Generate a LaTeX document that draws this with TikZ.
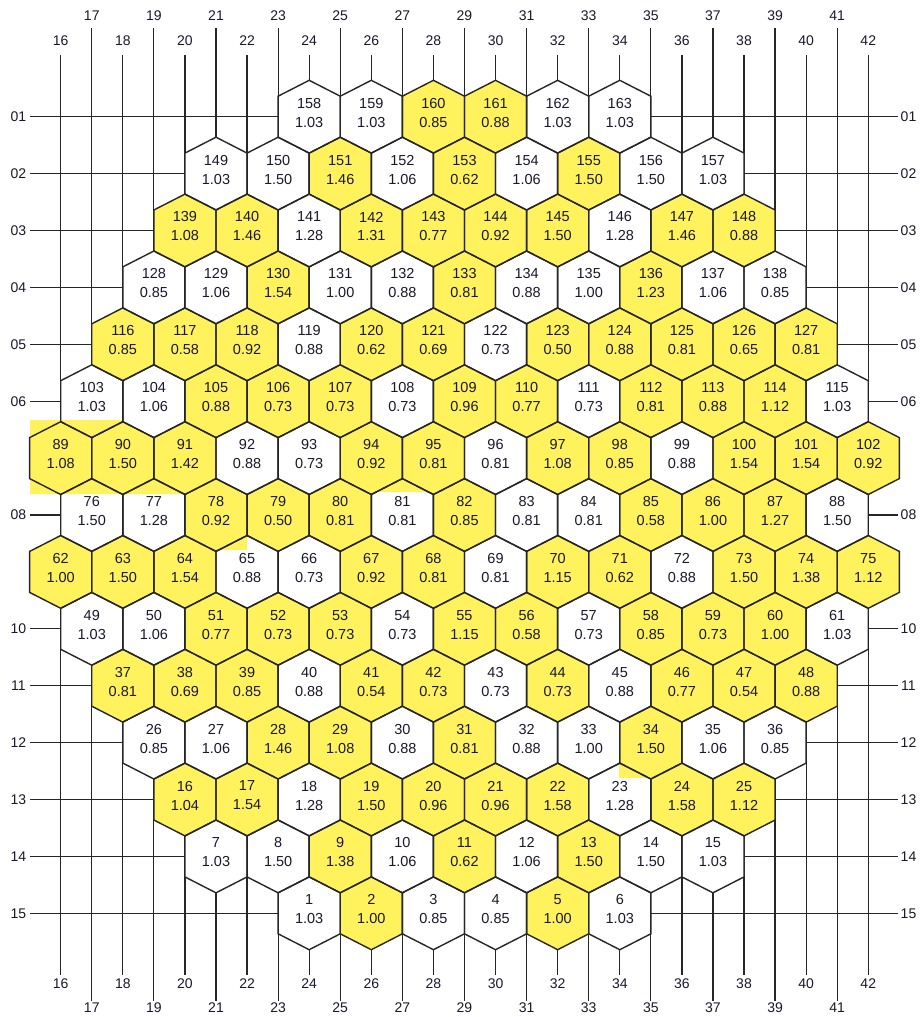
\documentclass[tikz,border=0pt]{standalone}
\usepackage{fontspec}
\setmainfont{Liberation Sans}
\definecolor{hexyellow}{RGB}{255,242,92}
\definecolor{inkline}{RGB}{38,38,38}
\definecolor{inktext}{RGB}{25,25,45}
\newcommand\hexdata{%
1/24/{158/1.03/0,159/1.03/0,160/0.85/1,161/0.88/1,162/1.03/0,163/1.03/0},%
2/21/{149/1.03/0,150/1.50/0,151/1.46/1,152/1.06/0,153/0.62/1,154/1.06/0,155/1.50/1,156/1.50/0,157/1.03/0},%
3/20/{139/1.08/1,140/1.46/1,141/1.28/0,142/1.31/1,143/0.77/1,144/0.92/1,145/1.50/1,146/1.28/0,147/1.46/1,148/0.88/1},%
4/19/{128/0.85/0,129/1.06/0,130/1.54/1,131/1.00/0,132/0.88/0,133/0.81/1,134/0.88/0,135/1.00/0,136/1.23/1,137/1.06/0,138/0.85/0},%
5/18/{116/0.85/1,117/0.58/1,118/0.92/1,119/0.88/0,120/0.62/1,121/0.69/1,122/0.73/0,123/0.50/1,124/0.88/1,125/0.81/1,126/0.65/1,127/0.81/1},%
6/17/{103/1.03/0,104/1.06/0,105/0.88/1,106/0.73/1,107/0.73/1,108/0.73/0,109/0.96/1,110/0.77/1,111/0.73/0,112/0.81/1,113/0.88/1,114/1.12/1,115/1.03/0},%
7/16/{89/1.08/1,90/1.50/1,91/1.42/1,92/0.88/0,93/0.73/0,94/0.92/1,95/0.81/1,96/0.81/0,97/1.08/1,98/0.85/1,99/0.88/0,100/1.54/1,101/1.54/1,102/0.92/1},%
8/17/{76/1.50/0,77/1.28/0,78/0.92/1,79/0.50/1,80/0.81/1,81/0.81/0,82/0.85/1,83/0.81/0,84/0.81/0,85/0.58/1,86/1.00/1,87/1.27/1,88/1.50/0},%
9/16/{62/1.00/1,63/1.50/1,64/1.54/1,65/0.88/0,66/0.73/0,67/0.92/1,68/0.81/1,69/0.81/0,70/1.15/1,71/0.62/1,72/0.88/0,73/1.50/1,74/1.38/1,75/1.12/1},%
10/17/{49/1.03/0,50/1.06/0,51/0.77/1,52/0.73/1,53/0.73/1,54/0.73/0,55/1.15/1,56/0.58/1,57/0.73/0,58/0.85/1,59/0.73/1,60/1.00/1,61/1.03/0},%
11/18/{37/0.81/1,38/0.69/1,39/0.85/1,40/0.88/0,41/0.54/1,42/0.73/1,43/0.73/0,44/0.73/1,45/0.88/0,46/0.77/1,47/0.54/1,48/0.88/1},%
12/19/{26/0.85/0,27/1.06/0,28/1.46/1,29/1.08/1,30/0.88/0,31/0.81/1,32/0.88/0,33/1.00/0,34/1.50/1,35/1.06/0,36/0.85/0},%
13/20/{16/1.04/1,17/1.54/1,18/1.28/0,19/1.50/1,20/0.96/1,21/0.96/1,22/1.58/1,23/1.28/0,24/1.58/1,25/1.12/1},%
14/21/{7/1.03/0,8/1.50/0,9/1.38/1,10/1.06/0,11/0.62/1,12/1.06/0,13/1.50/1,14/1.50/0,15/1.03/0},%
15/24/{1/1.03/0,2/1.00/1,3/0.85/0,4/0.85/0,5/1.00/1,6/1.03/0}}
\begin{document}
\begin{tikzpicture}[x=1pt,y=-1pt,
  hexout/.style={draw=inkline,line width=1.4pt,line join=miter},
  gridline/.style={draw=inkline,line width=1.2pt},
  lab/.style={font=\fontsize{14}{16}\selectfont,text=inktext,inner sep=0pt},
  hexlab/.style={font=\fontsize{14.5}{17}\selectfont,text=inktext,inner sep=0pt},
  artefact/.style={fill=hexyellow}]
\fill[white] (0,0) rectangle (919,1017);
\useasboundingbox (0,0) rectangle (919,1017);
% column lines and labels
\foreach \c in {16,18,...,42}{
  \pgfmathsetmacro\xx{60.7+(\c-16)*31.06}
  \draw[gridline] (\xx,55) -- (\xx,975);
  \node[lab] (ct\c) at (\xx,41) {\c};
  \node[lab] (cb\c) at (\xx,984) {\c};
}
\foreach \c in {17,19,...,41}{
  \pgfmathsetmacro\xx{60.7+(\c-16)*31.06}
  \draw[gridline] (\xx,28) -- (\xx,1001);
  \node[lab] (ct\c) at (\xx,15.5) {\c};
  \node[lab] (cb\c) at (\xx,1008) {\c};
}
% row lines and labels
\foreach \r/\rl in {1/01,2/02,3/03,4/04,5/05,6/06,8/08,10/10,11/11,12/12,13/13,14/14,15/15}{
  \pgfmathsetmacro\yy{116.7+(\r-1)*56.9}
  \draw[gridline] (30,\yy) -- (898,\yy);
  \node[lab] (rl\r) at (18.5,\yy) {\rl};
  \node[lab] (rr\r) at (908.5,\yy) {\rl};
}
% hexagon fills
\foreach \r/\c/\lst in \hexdata{
  \foreach \n/\v/\f [count=\i from 0] in \lst{
    \pgfmathsetmacro\hx{60.7+(\c+2*\i-16)*31.06}
    \pgfmathsetmacro\hy{116.7+(\r-1)*56.9}
    \ifnum\f=1 \def\hc{hexyellow}\else\def\hc{white}\fi
    \fill[\hc] (\hx,\hy) ++(0,-36.4) -- ++(31.06,15.9) -- ++(0,41) -- ++(-31.06,15.9) -- ++(-31.06,-15.9) -- ++(0,-41) -- cycle;
  }
}
% stray yellow patches of the original
\fill[artefact] (30,420) -- (122.8,420) -- (122.8,480) -- (185,480) -- (185,494) -- (30,494) -- cycle;
\fill[artefact] (215,534) rectangle (247,550);
\fill[artefact] (371,477) rectangle (433,492);
\fill[artefact] (619,762) rectangle (650,778);
% hexagon outlines and labels
\foreach \r/\c/\lst in \hexdata{
  \foreach \n/\v/\f [count=\i from 0] in \lst{
    \pgfmathsetmacro\hx{60.7+(\c+2*\i-16)*31.06}
    \pgfmathsetmacro\hy{116.7+(\r-1)*56.9}
    \draw[hexout] (\hx,\hy) ++(0,-36.4) -- ++(31.06,15.9) -- ++(0,41) -- ++(-31.06,15.9) -- ++(-31.06,-15.9) -- ++(0,-41) -- cycle;
    \node[hexlab] (h\n) at (\hx,\hy-13.5) {\n};
    \node[hexlab] (v\n) at (\hx,\hy+5.5) {\v};
  }
}
\end{tikzpicture}
\end{document}
